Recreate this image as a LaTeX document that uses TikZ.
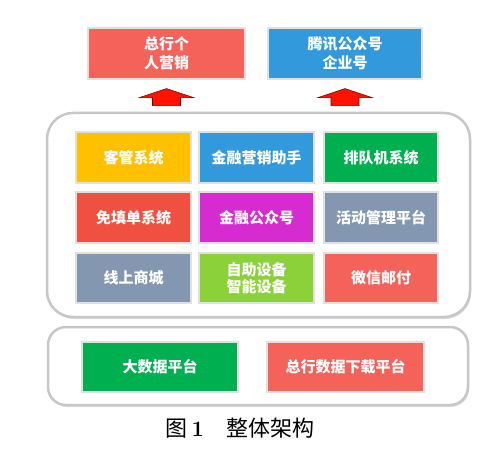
\documentclass[tikz,border=0pt]{standalone}
\usepackage{fontspec}
\newfontfamily\cjk{Noto Sans CJK SC}
\usetikzlibrary{shadows}

\definecolor{chengse}{HTML}{FFC000}
\definecolor{lanse}{HTML}{3399DD}
\definecolor{lvse}{HTML}{00B050}
\definecolor{hongse}{HTML}{F05040}
\definecolor{zise}{HTML}{D62BD0}
\definecolor{huilan}{HTML}{8497B0}
\definecolor{qianlv}{HTML}{8BD13A}
\definecolor{qianhong}{HTML}{F5625A}

\begin{document}
\begin{tikzpicture}[x=1pt,y=-1pt,
    kuai/.style={draw=black!12, line width=1.2pt, text=white, align=center,
        inner sep=0pt, font=\cjk\bfseries\fontsize{15}{18}\selectfont},
    diban/.style={draw=black!22, line width=2.5pt, fill=white,
        drop shadow={shadow xshift=1pt, shadow yshift=-2pt, opacity=0.25}},
    jiantou/.style={fill=red!85!orange, draw=red!45!black, line width=0.6pt}]
    \useasboundingbox (0,0) rectangle (500,465);

    % 两块底板
    \draw[diban, rounded corners=26pt] (47,113) rectangle (470,317);
    \draw[diban, rounded corners=18pt] (48,327) rectangle (468,405);

    % 顶层
    \node[kuai, fill=qianhong, minimum width=157pt, minimum height=51pt,
        font=\cjk\bfseries\fontsize{15}{19}\selectfont] (geren) at (166.5,53.5) {总行个\\人营销};
    \node[kuai, fill=lanse, minimum width=154pt, minimum height=51pt,
        font=\cjk\bfseries\fontsize{15}{19}\selectfont] (tengxun) at (345,53.5) {腾讯公众号\\企业号};

    % 中间九宫格
    \node[kuai, fill=chengse, minimum width=115pt, minimum height=51pt] (keguan) at (133.5,157.5) {客管系统};
    \node[kuai, fill=lanse, minimum width=115pt, minimum height=51pt] (zhushou) at (256.5,157.5) {金融营销助手};
    \node[kuai, fill=lvse, minimum width=114pt, minimum height=51pt] (paidui) at (381,157.5) {排队机系统};
    \node[kuai, fill=hongse, minimum width=115pt, minimum height=51pt] (mianti) at (133.5,217.5) {免填单系统};
    \node[kuai, fill=zise, minimum width=115pt, minimum height=51pt] (gongzhong) at (256.5,217.5) {金融公众号};
    \node[kuai, fill=huilan, minimum width=114pt, minimum height=51pt] (huodong) at (381,217.5) {活动管理平台};
    \node[kuai, fill=huilan, minimum width=115pt, minimum height=50pt] (shangcheng) at (133.5,278) {线上商城};
    \node[kuai, fill=qianlv, minimum width=115pt, minimum height=50pt,
        font=\cjk\bfseries\fontsize{15}{17}\selectfont] (shebei) at (256.5,278) {自助设备\\智能设备};
    \node[kuai, fill=qianhong, minimum width=114pt, minimum height=50pt] (youfu) at (381,278) {微信邮付};

    % 底层
    \node[kuai, fill=lvse, minimum width=156pt, minimum height=50pt] (dashuju) at (160,367) {大数据平台};
    \node[kuai, fill=qianhong, minimum width=157pt, minimum height=50pt] (xiazai) at (345.5,367) {总行数据下载平台};

    % 向上箭头
    \foreach \b in {geren,tengxun} {
        \draw[jiantou] ([yshift=-9pt]\b.south) -- ++(27,9) -- ++(-13,0) -- ++(0,8)
            -- ++(-28,0) -- ++(0,-8) -- ++(-13,0) -- cycle;
    }

    \node[font=\fontsize{22}{24}\selectfont] (tiaoti) at (240,428)
        {{\cjk 图}\,\textbf{1}\hspace{1em}{\cjk 整体架构}};
\end{tikzpicture}
\end{document}
